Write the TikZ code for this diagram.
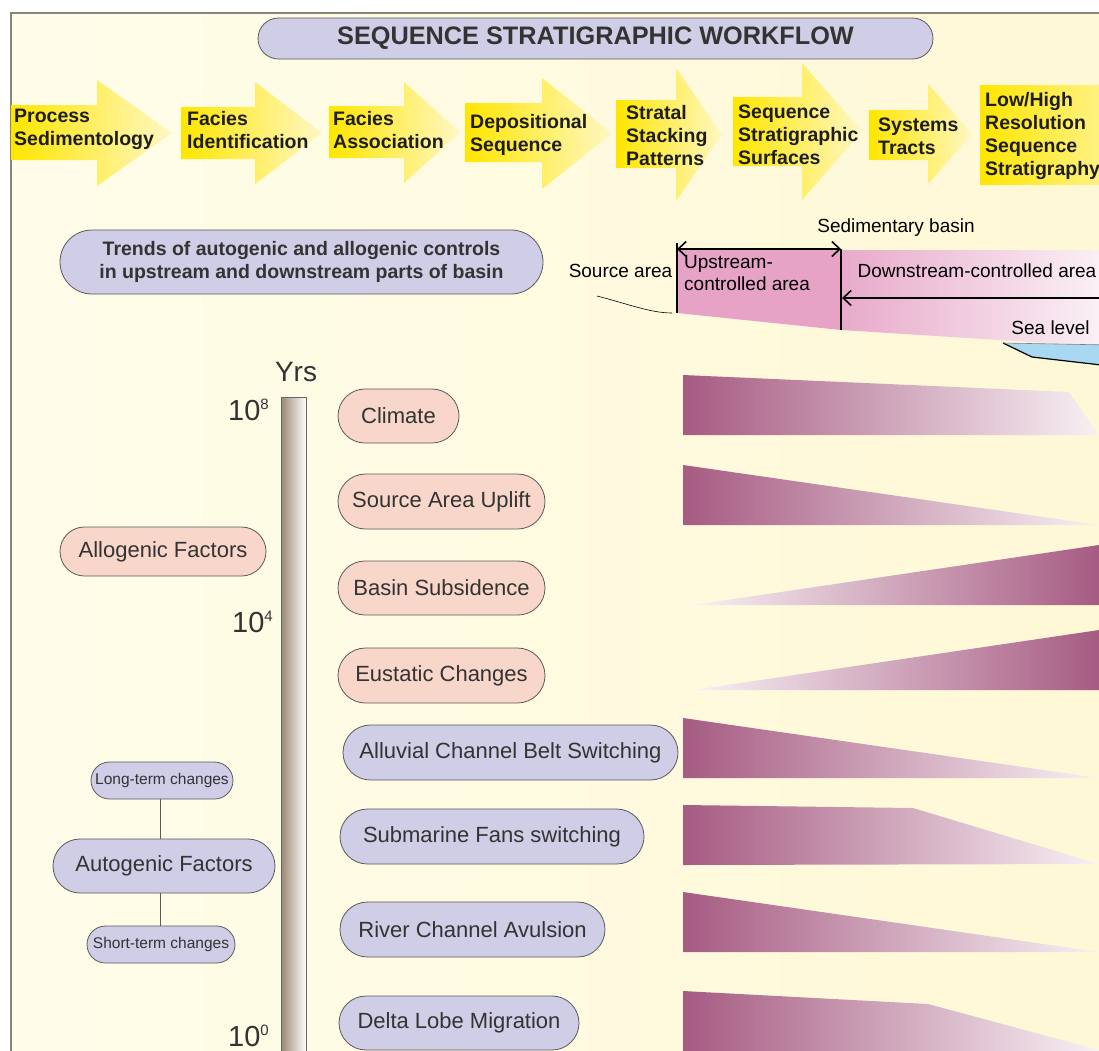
\documentclass[tikz,border=0pt]{standalone}
\usepackage{fontspec}
\setmainfont{Liberation Sans}
\usetikzlibrary{arrows.meta}

\definecolor{bgcream}{HTML}{FFF8D6}
\definecolor{bglight}{HTML}{FFFDEA}
\definecolor{framegray}{HTML}{85857A}
\definecolor{lav}{HTML}{D0CDE6}
\definecolor{peach}{HTML}{F8D6CA}
\definecolor{pillline}{HTML}{5A5A5A}
\definecolor{txt}{HTML}{333333}
\definecolor{hdrtxt}{HTML}{1E1E1E}
\definecolor{ylwstrong}{HTML}{FFE600}
\definecolor{ylwpale}{HTML}{FFF7C4}
\definecolor{wedgedark}{HTML}{A65B82}
\definecolor{wedgemid}{HTML}{D8B6C8}
\definecolor{wedgelight}{HTML}{F8F1F4}
\definecolor{basinpink}{HTML}{E6A3C6}
\definecolor{basinpale}{HTML}{FBF3F7}
\definecolor{seablue}{HTML}{A9D9F2}
\definecolor{bardark}{HTML}{9C8872}
\definecolor{barmid}{HTML}{E2DAD0}

\tikzset{
  pill/.style={draw=pillline, line width=0.8pt, text=txt, inner sep=0pt,
    font=\fontsize{22}{26}\selectfont},
  allopill/.style={pill, fill=peach},
  autopill/.style={pill, fill=lav},
  hdrtext/.style={anchor=west, align=left, text=hdrtxt, inner sep=0pt,
    font=\bfseries\fontsize{19.5}{23}\selectfont},
  basintext/.style={text=black, inner sep=0pt, font=\fontsize{19}{22}\selectfont},
  basinarrow/.style={line width=1.6pt, arrows={-Straight Barb[length=8pt,width=15pt,line width=1.6pt]}},
  basinline/.style={line width=1.5pt},
  ticklabel/.style={anchor=east, inner sep=0pt, text=txt, font=\fontsize{29}{32}\selectfont},
  wedge/.style={left color=wedgedark, middle color=wedgemid, right color=wedgelight},
  rwedge/.style={left color=wedgelight, middle color=wedgemid, right color=wedgedark},
  link/.style={draw=pillline, line width=0.8pt}
}

% header step arrow: left x, head base x, body top, body bottom, head top, head bottom, tip x
\newcommand{\flowarrow}[7]{%
  \shade[left color=ylwstrong, right color=ylwpale]
    (#1,#3) -- (#2,#3) -- (#2,#5) -- (#7,{(#5+#6)/2}) -- (#2,#6) -- (#2,#4) -- (#1,#4) -- cycle;}
% power-of-ten tick label
\newcommand{\tenpow}[1]{10{\fontsize{15}{15}\selectfont\raisebox{11pt}{#1}}}

\begin{document}
\begin{tikzpicture}[x=1pt,y=-1pt]
\useasboundingbox (0,0) rectangle (1099,1050);
\fill[white] (0,0) rectangle (1099,1050);
% sheet
\shade[left color=bglight, right color=bgcream] (11,13) rectangle (1110,1060);
\draw[framegray, line width=1.5pt] (1110,13) -- (11,13) -- (11,1060);

% title
\node[autopill, minimum width=675pt, minimum height=41pt, rounded corners=20.5pt,
  font=\bfseries\fontsize{25.3}{30}\selectfont] (title) at (595.5,38.5)
  {SEQUENCE STRATIGRAPHIC WORKFLOW};

% workflow steps
\flowarrow{11}{97}{105}{160}{80}{186}{172}
\flowarrow{181}{255}{107}{159}{82}{184}{322}
\flowarrow{329}{404}{106}{158}{82}{183}{460}
\flowarrow{465}{542}{103}{162}{78}{189}{612}
\flowarrow{616}{676}{100}{168}{68}{201}{722}
\flowarrow{733}{802}{97}{166}{63}{200}{862}
\flowarrow{869}{928}{110}{160}{84}{184}{972}
\shade[left color=ylwstrong, right color=ylwpale] (980,85) rectangle (1160,184);

\node[hdrtext] (s1) at (14,129) {Process\\Sedimentology};
\node[hdrtext] (s2) at (187,130) {Facies\\Identification};
\node[hdrtext] (s3) at (333,130) {Facies\\Association};
\node[hdrtext] (s4) at (470,135) {Depositional\\Sequence};
\node[hdrtext] (s5) at (626,136) {Stratal\\Stacking\\Patterns};
\node[hdrtext] (s6) at (738,135) {Sequence\\Stratigraphic\\Surfaces};
\node[hdrtext] (s7) at (878,136) {Systems\\Tracts};
\node[hdrtext] (s8) at (985,136) {Low/High\\Resolution\\Sequence\\Stratigraphy};

% caption pill
\node[autopill, minimum width=483pt, minimum height=64pt, rounded corners=32pt,
  align=center, font=\bfseries\fontsize{19.5}{23}\selectfont] (trends) at (301.5,262)
  {Trends of autogenic and allogenic controls\\in upstream and downstream parts of basin};

% basin profile
\fill[basinpink] (677,249) -- (841,249) -- (841,330) -- (677,313) -- cycle;
\shade[left color=basinpink!92, right color=basinpale] (841,250) -- (1110,250) -- (1110,347) -- (841,330) -- cycle;
\fill[seablue] (1003,343) -- (1110,345) -- (1110,366) -- (1032,357) -- cycle;
\draw[line width=1.2pt] (1003,343) -- (1032,357) -- (1110,366);
\draw[gray, line width=0.6pt] (1003,343) -- (1110,345);

\coordinate (srcTop) at (677,243);
\coordinate (srcBot) at (677,313);
\coordinate (upTop) at (841,249);
\coordinate (upBot) at (841,330);
\coordinate (upL) at (677,249);
\coordinate (upR) at (841,249);
\coordinate (dnR) at (1110,298);
\coordinate (dnL) at (842,298);
\coordinate (leadA) at (597,296);
\coordinate (leadB) at (672,313);

\draw[basinline] (srcTop) -- (srcBot);
\draw[basinline] (upTop) -- (upBot);
\draw[basinarrow, arrows={Straight Barb[length=8pt,width=15pt,line width=1.6pt]-Straight Barb[length=8pt,width=15pt,line width=1.6pt]}] (upL) -- (upR);
\draw[basinarrow] (dnR) -- (dnL);
\draw[line width=0.6pt] (leadA) .. controls (625,303) and (650,313) .. (leadB);

\node[basintext] (sedbasin) at (896,228) {Sedimentary basin};
\node[basintext] (source) at (620.5,271) {Source area};
\node[basintext, anchor=west, align=left, font=\fontsize{19}{22}\selectfont] (upstream) at (684,273) {Upstream-\\controlled area};
\node[basintext] (downstream) at (977,271) {Downstream-controlled area};
\node[basintext] (sealevel) at (1050.5,328) {Sea level};

% time scale
\shade[left color=bardark, middle color=barmid, right color=white] (281,397) rectangle (306,1065);
\draw[gray!80!black, line width=0.6pt] (281,1065) -- (281,397) -- (306,397) -- (306,1065);
\node[inner sep=0pt, text=txt, font=\fontsize{28}{32}\selectfont] (yrs) at (296,372) {Yrs};
\node[ticklabel] (t8) at (269,410) {\tenpow{8}};
\node[ticklabel] (t4) at (273,622) {\tenpow{4}};
\node[ticklabel] (t0) at (269,1036) {\tenpow{0}};

% factor groups
\node[allopill, minimum width=206pt, minimum height=49pt, rounded corners=24.5pt] (allo) at (163,551.5) {Allogenic Factors};
\node[autopill, minimum width=142pt, minimum height=37pt, rounded corners=18.5pt,
  font=\fontsize{15.5}{18}\selectfont] (longterm) at (162,780.5) {Long-term changes};
\node[autopill, minimum width=222pt, minimum height=54pt, rounded corners=27pt] (auto) at (164,866) {Autogenic Factors};
\node[autopill, minimum width=148pt, minimum height=37pt, rounded corners=18.5pt,
  font=\fontsize{15.5}{18}\selectfont] (shortterm) at (161,944.5) {Short-term changes};
\coordinate (linkx) at (160,0);
\draw[link] (longterm.south -| linkx) -- (auto.north -| linkx);
\draw[link] (auto.south -| linkx) -- (shortterm.north -| linkx);

% controls
\node[allopill, minimum width=121pt, minimum height=54pt, rounded corners=27pt] (climate) at (398.5,416) {Climate};
\node[allopill, minimum width=207pt, minimum height=55pt, rounded corners=27.5pt] (uplift) at (441.5,501.5) {Source Area Uplift};
\node[allopill, minimum width=207pt, minimum height=54pt, rounded corners=27pt] (subsid) at (441.5,588) {Basin Subsidence};
\node[allopill, minimum width=207pt, minimum height=55pt, rounded corners=27.5pt] (eustatic) at (441.5,675.5) {Eustatic Changes};
\node[autopill, minimum width=335pt, minimum height=55pt, rounded corners=27.5pt] (alluvial) at (510.5,752.5) {Alluvial Channel Belt Switching};
\node[autopill, minimum width=304pt, minimum height=55pt, rounded corners=27.5pt] (fans) at (492,836.5) {Submarine Fans switching};
\node[autopill, minimum width=265pt, minimum height=55pt, rounded corners=27.5pt] (avulsion) at (472.5,929.5) {River Channel Avulsion};
\node[autopill, minimum width=240pt, minimum height=54pt, rounded corners=27pt] (delta) at (459,1023) {Delta Lobe Migration};

% trend wedges
\shade[wedge] (683,375) -- (1069,392) -- (1099,435) -- (683,435) -- cycle;
\shade[wedge] (683,465) -- (1099,525) -- (683,525) -- cycle;
\shade[rwedge] (693,605) -- (1099,545) -- (1099,605) -- cycle;
\shade[rwedge] (693,690) -- (1099,630) -- (1099,690) -- cycle;
\shade[wedge] (683,718) -- (1099,778) -- (683,778) -- cycle;
\shade[wedge] (683,805) -- (913,808) -- (1099,864) -- (683,865) -- cycle;
\shade[wedge] (683,892) -- (1099,952) -- (683,952) -- cycle;
\shade[wedge] (683,991) -- (928,1004) -- (1099,1050) -- (1099,1065) -- (683,1065) -- cycle;
\end{tikzpicture}
\end{document}
